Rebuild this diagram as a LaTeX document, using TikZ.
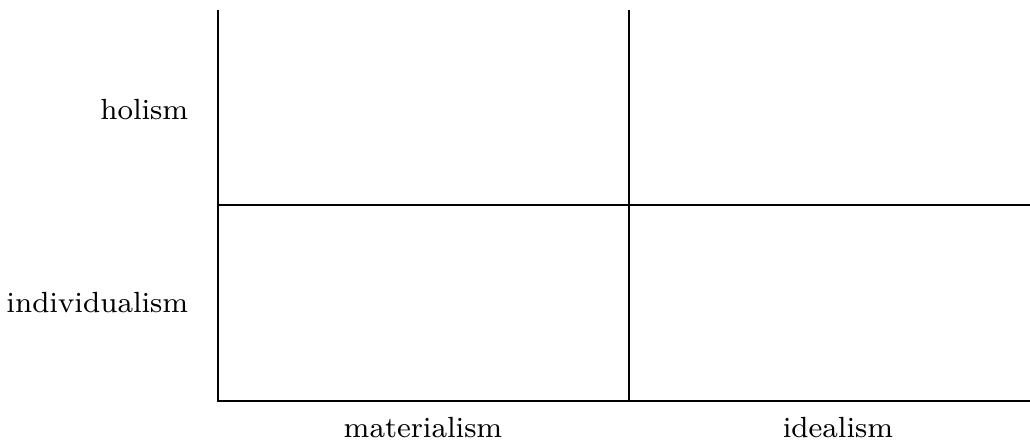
\documentclass[tikz,border=0pt]{standalone}
\usepackage{tikz}
\usetikzlibrary{positioning}

\begin{document}
\begin{tikzpicture}[
    x=0.01cm, y=-0.01cm,
    axis/.style={line width=0.6pt},
    lbl/.style={font=\fontsize{8.3}{10}\selectfont, inner sep=0pt}
  ]
    \useasboundingbox (0,0) rectangle (1030,439);
    \coordinate (top) at (218,10);
    \coordinate (orig) at (218,401);
    \coordinate (right) at (1030,401);
    \coordinate (midtop) at (629,10);
    \coordinate (midbot) at (629,401);
    \coordinate (midleft) at (218,205);
    \coordinate (midright) at (1030,205);

    \draw[axis] (top) -- (orig) -- (right);
    \draw[axis] (midtop) -- (midbot);
    \draw[axis] (midleft) -- (midright);

    \node[lbl, anchor=east] (holism) at (189,110) {holism};
    \node[lbl, anchor=east] (indiv) at (189,303) {individualism};
    \node[lbl] (mat) at (423,428) {materialism};
    \node[lbl] (ideal) at (838,428) {idealism};
  \end{tikzpicture}
\end{document}
